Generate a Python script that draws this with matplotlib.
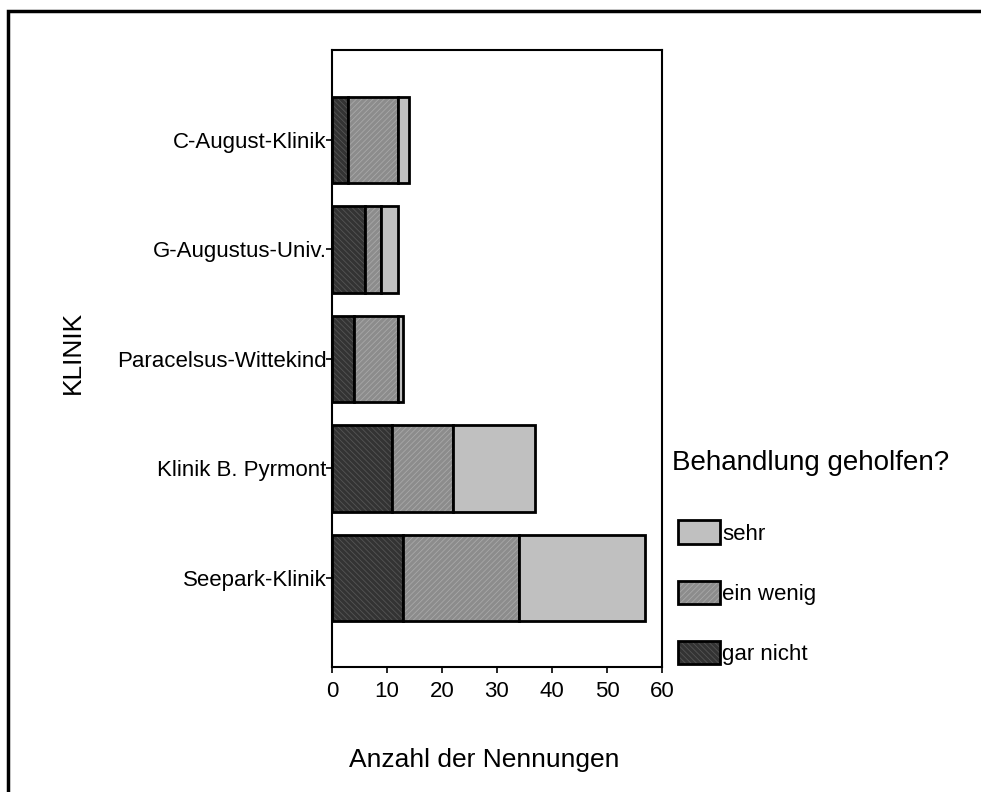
import matplotlib.pyplot as plt
from matplotlib.patches import Rectangle
import numpy as np

plt.rcParams['font.family'] = ['Liberation Sans', 'DejaVu Sans']
plt.rcParams['hatch.linewidth'] = 0.6

kliniken = ['Seepark-Klinik', 'Klinik B. Pyrmont', 'Paracelsus-Wittekind',
            'G-Augustus-Univ.', 'C-August-Klinik']
gar_nicht = [13, 11, 4, 6, 3]
ein_wenig = [21, 11, 8, 3, 9]
sehr = [23, 15, 1, 3, 2]

fig = plt.figure(figsize=(9.81, 7.92), dpi=100)
ax = fig.add_axes([0.3384, 0.1578, 0.3364, 0.7791])

y = np.arange(len(kliniken))
g = np.array(gar_nicht)
e = np.array(ein_wenig)
s = np.array(sehr)

b1 = ax.barh(y, g, height=0.79, color='#333333', edgecolor='black',
             linewidth=2, hatch='\\\\\\\\\\\\', label='gar nicht')
b2 = ax.barh(y, e, left=g, height=0.79, color='#8c8c8c', edgecolor='black',
             linewidth=2, hatch='//////', label='ein wenig')
b3 = ax.barh(y, s, left=g + e, height=0.79, color='#c0c0c0', edgecolor='black',
             linewidth=2, label='sehr')
# hatch colour: lighter lines on the dark fills
for b, hc in ((b1, '#555555'), (b2, '#a8a8a8')):
    for p in b:
        p._hatch_color = (*[int(hc[i:i + 2], 16) / 255 for i in (1, 3, 5)], 1)

ax.set_xlim(0, 60)
ax.set_ylim(-0.815, 4.82)
ax.set_xticks(range(0, 61, 10))
ax.set_yticks(y)
ax.set_yticklabels(kliniken)
ax.tick_params(labelsize=16, length=4, width=1.2)
ax.tick_params(axis='y', pad=0)
ax.tick_params(axis='x', pad=6)
for sp in ax.spines.values():
    sp.set_linewidth(1.5)

fig.text(0.0744, 0.555, 'KLINIK', rotation=90, fontsize=19,
         ha='center', va='center')
fig.text(0.494, 0.04, 'Anzahl der Nennungen', fontsize=19,
         ha='center', va='center')

# legend title drawn separately so it can sit a little left of the boxes
fig.text(0.685, 0.4154, 'Behandlung geholfen?', fontsize=20,
         ha='left', va='center')
leg = ax.legend(handles=[b3, b2, b1], labels=['sehr', 'ein wenig', 'gar nicht'],
                fontsize=16, frameon=False, loc='upper left',
                bbox_to_anchor=(0.691, 0.343), bbox_transform=fig.transFigure,
                handlelength=1.9, handleheight=1.25, handletextpad=0.1,
                labelspacing=1.62, borderaxespad=0, borderpad=0)
for h in leg.legend_handles:
    h.set_linewidth(2)

# outer frame around the whole chart
fig.add_artist(Rectangle((0.0082, -0.02), 1.1, 1.0061, transform=fig.transFigure,
                         fill=False, edgecolor='black', linewidth=2.5,
                         clip_on=False))

fig.savefig('out.png', dpi=100)
